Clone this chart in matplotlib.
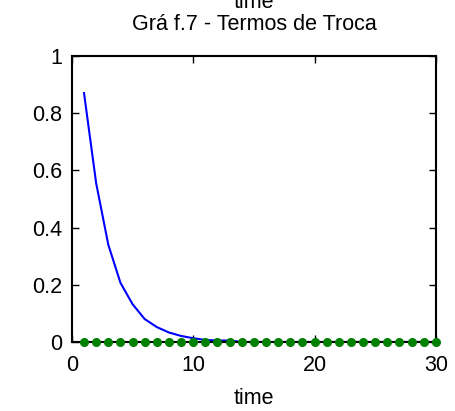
import matplotlib
matplotlib.use("Agg")
import matplotlib.pyplot as plt

plt.rcParams["font.family"] = ["Liberation Sans", "DejaVu Sans"]

# tempo (períodos) e resposta dos termos de troca
time = list(range(1, 31))
termos_troca = [0.87, 0.555, 0.34, 0.207, 0.132, 0.08, 0.052, 0.033, 0.021, 0.013,
                0.007, 0.005, 0.005, 0.0, 0.0, 0.0, 0.0, 0.0, 0.0, 0.0,
                0.0, 0.0, 0.0, 0.0, 0.0, 0.0, 0.0, 0.0, 0.0, 0.0]
zero_line = [0.0] * 30

fig = plt.figure(figsize=(4.55, 4.11), dpi=100)
ax = fig.add_axes([0.158, 0.168, 0.8, 0.696])

ax.plot(time, termos_troca, color="blue", linewidth=1.5)
ax.plot(time, zero_line, linestyle="none", marker="o", markersize=5.5,
        color="green", clip_on=False, zorder=5)

ax.set_xlim(0, 30)
ax.set_ylim(0, 1)
ax.set_xticks([0, 10, 20, 30])
ax.set_yticks([0, 0.2, 0.4, 0.6, 0.8, 1])
ax.set_yticklabels(["0", "0.2", "0.4", "0.6", "0.8", "1"])
ax.tick_params(direction="in", length=5, width=1, labelsize=15.5,
               top=True, right=True)
ax.tick_params(axis="x", pad=9.5)
ax.tick_params(axis="y", pad=7)
for s in ax.spines.values():
    s.set_linewidth(1.5)

ax.set_xlabel("time", fontsize=15.5, va="top")
ax.xaxis.set_label_coords(0.5, -0.161)

fig.text(0.558, 1 - 30 / 411, "Grá f.7 - Termos de Troca", fontsize=15.5,
         ha="center", va="baseline")
fig.text(0.558, 1 - 8 / 411, "time", fontsize=15.5, ha="center", va="baseline")

plt.savefig("out.png", dpi=100)
plt.close()
